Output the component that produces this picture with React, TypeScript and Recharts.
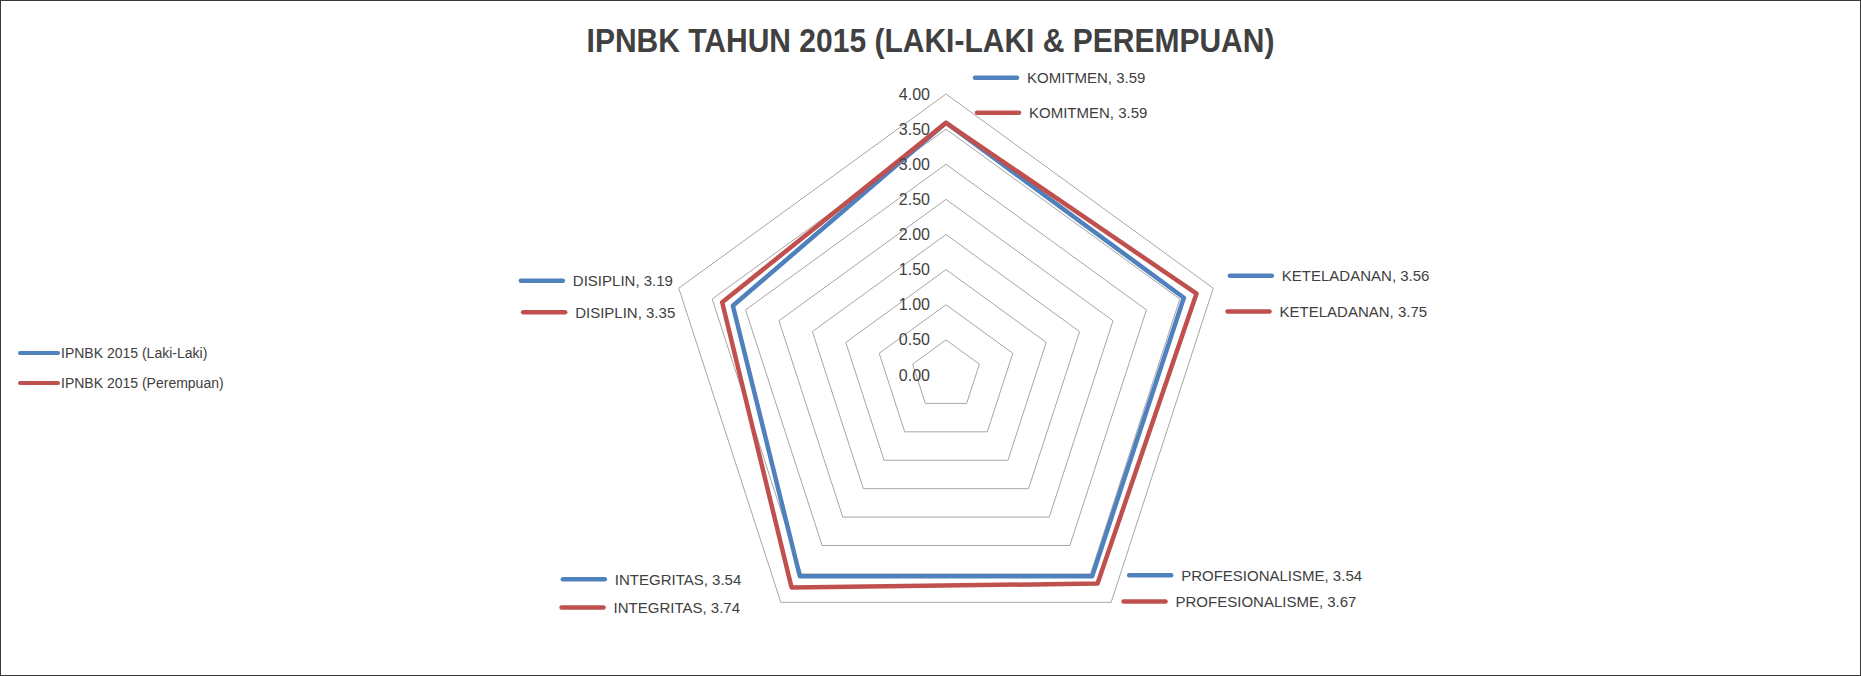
import React from "react";
import { RadarChart, Radar, PolarGrid, PolarAngleAxis, PolarRadiusAxis } from "recharts";

const TITLE = "IPNBK TAHUN 2015 (LAKI-LAKI & PEREMPUAN)";
const categories = ["KOMITMEN", "KETELADANAN", "PROFESIONALISME", "INTEGRITAS", "DISIPLIN"];
const lakiLaki = [3.59, 3.56, 3.54, 3.54, 3.19];
const perempuan = [3.59, 3.75, 3.67, 3.74, 3.35];
const seriesNames = ["IPNBK 2015 (Laki-Laki)", "IPNBK 2015 (Perempuan)"];
const seriesColors = ["#4F81BD", "#C0504D"];
const radiusTicks = [0, 0.5, 1, 1.5, 2, 2.5, 3, 3.5, 4];

// label placement (style only): offset of the legend-key start from the data point
const LABEL_OFFSETS: number[][][] = [
  [[29, -45], [46, -22], [37, -1], [-237, 3], [-212, -25]],
  [[31, -10], [31, 18], [26, 18], [-230, 20], [-199, 10]],
];

const data = categories.map((c, i) => ({ name: c, laki: lakiLaki[i], perempuan: perempuan[i] }));
const seriesValues = [lakiLaki, perempuan];

const FONT = "'Liberation Sans', Arial, sans-serif";
const TEXT = "#404040";

const makeDot = (s: number) => (props: any) => {
  const { cx, cy, index } = props;
  const off = LABEL_OFFSETS[s][index];
  const x = cx + off[0];
  const y = cy + off[1];
  return (
    <g key={`lbl-${s}-${index}`}>
      <line x1={x} y1={y} x2={x + 42} y2={y} stroke={seriesColors[s]} strokeWidth={4.5} strokeLinecap="round" />
      <text x={x + 52} y={y} dominantBaseline="central" fontSize={15} fontFamily={FONT} fill={TEXT}>
        {`${categories[index]}, ${seriesValues[s][index].toFixed(2)}`}
      </text>
    </g>
  );
};

const RadiusTick = (props: any) => {
  const { x, y, payload } = props;
  return (
    <text x={x - 16} y={y} textAnchor="end" dominantBaseline="central" fontSize={16} fontFamily={FONT} fill={TEXT}>
      {Number(payload.value).toFixed(2)}
    </text>
  );
};

export default function App() {
  return (
    <div style={{ position: "relative", width: 1861, height: 676, background: "#fff" }}>
      <style>{`body{margin:0;}`}</style>
      <div
        style={{
          position: "absolute",
          left: 0,
          top: 23,
          width: 1861,
          textAlign: "center",
          fontFamily: FONT,
          fontWeight: "bold",
          fontSize: 30,
          color: TEXT,
          lineHeight: "36px",
          transform: "scaleY(1.1)",
          transformOrigin: "center",
        }}
      >
        {TITLE}
      </div>
      <RadarChart
        width={1861}
        height={676}
        data={data}
        cx={946}
        cy={375}
        outerRadius={281}
        margin={{ top: 0, right: 0, bottom: 0, left: 0 }}
        startAngle={90}
        endAngle={-270}
      >
        <PolarGrid gridType="polygon" radialLines={false} stroke="#A6A6A6" strokeWidth={1} />
        <PolarAngleAxis dataKey="name" tick={false} axisLine={false} tickLine={false} />
        <PolarRadiusAxis
          angle={90}
          domain={[0, 4]}
          ticks={radiusTicks as any}
          tickCount={9}
          axisLine={false}
          tickLine={false}
          tick={<RadiusTick />}
        />
        <Radar
          name={seriesNames[0]}
          dataKey="laki"
          stroke={seriesColors[0]}
          strokeWidth={4.5}
          strokeLinejoin="round"
          fill="none"
          fillOpacity={0}
          dot={makeDot(0)}
          isAnimationActive={false}
        />
        <Radar
          name={seriesNames[1]}
          dataKey="perempuan"
          stroke={seriesColors[1]}
          strokeWidth={4.5}
          strokeLinejoin="round"
          fill="none"
          fillOpacity={0}
          dot={makeDot(1)}
          isAnimationActive={false}
        />
      </RadarChart>
      <div style={{ position: "absolute", left: 0, top: 0, fontFamily: FONT, fontSize: 14, color: TEXT }}>
        {seriesNames.map((n, i) => (
          <div
            key={n}
            style={{ position: "absolute", left: 18, top: 343 + i * 30, height: 20, display: "flex", alignItems: "center", whiteSpace: "nowrap" }}
          >
            <span style={{ display: "inline-block", width: 42, height: 4, borderRadius: 2, background: seriesColors[i], marginRight: 1 }} />
            <span>{n}</span>
          </div>
        ))}
      </div>
      <div
        style={{
          position: "absolute",
          left: 0,
          top: 0,
          width: 1861,
          height: 676,
          border: "1.5px solid #3a3a3a",
          boxSizing: "border-box",
          pointerEvents: "none",
        }}
      />
    </div>
  );
}
